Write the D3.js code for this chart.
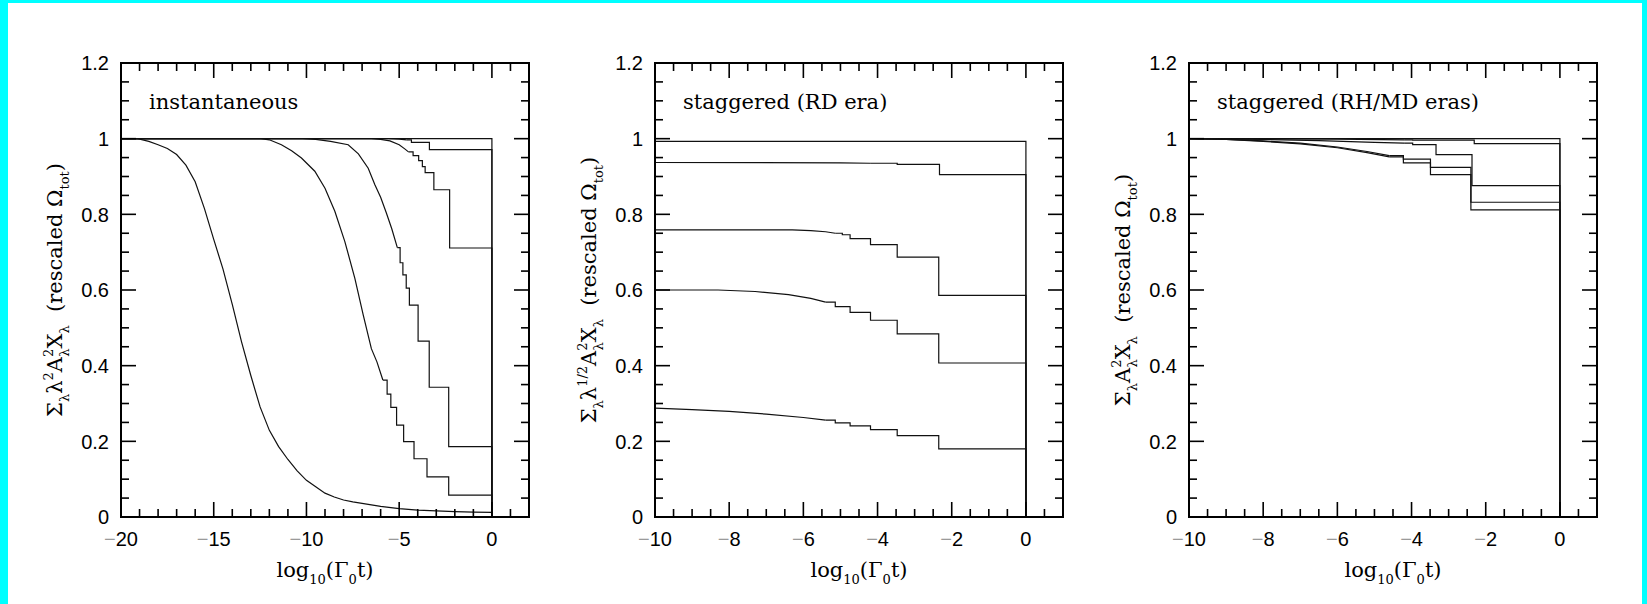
<!DOCTYPE html>
<html>
<head>
<meta charset="utf-8">
<script src="https://cdn.jsdelivr.net/npm/d3@7"></script>
<style>
  html, body { margin: 0; padding: 0; background: #fff; }
  svg { display: block; }
  text { white-space: pre; }
</style>
</head>
<body>
<svg id="fig" width="1647" height="604"></svg>
<script>
// ---------------- data ----------------
// Each curve: a smooth part (joined point to point) and a staircase part
// ([x, new value] at each drop), ending with the fall to zero at x = 0.

// Panel 1: instantaneous
const instF = [[-20, 1]];
const instFStep = [[0, 0]];
const instE = [[-20, 1], [-5.6, 1], [-5.0, 0.999], [-4.6, 0.997]];
const instEStep = [[-4.34, 0.990], [-3.37, 0.971], [0, 0]];
const instD = [[-20, 1], [-6.5, 1], [-6.0, 0.998], [-5.5, 0.994], [-5.0, 0.984], [-4.7, 0.973], [-4.5, 0.965]];
const instDStep = [[-4.25, 0.955], [-3.95, 0.942], [-3.75, 0.926], [-3.6, 0.910], [-3.13, 0.865], [-2.28, 0.711], [0, 0]];
const instC = [[-20, 1], [-10.2, 1], [-9.5, 0.998], [-8.7, 0.993], [-7.75, 0.984], [-7.2, 0.960], [-6.67, 0.922],
               [-6.31, 0.878], [-6.0, 0.845], [-5.7, 0.805], [-5.4, 0.762], [-5.1, 0.712]];
const instCStep = [[-4.95, 0.672], [-4.8, 0.640], [-4.62, 0.605], [-4.45, 0.560], [-3.98, 0.465],
                   [-3.38, 0.343], [-2.33, 0.186], [0, 0]];
const instB = [[-20, 1], [-12.45, 1], [-12, 0.997], [-11.35, 0.984], [-10.8, 0.968], [-10.27, 0.949],
               [-9.55, 0.914], [-9.0, 0.869], [-8.47, 0.808], [-7.93, 0.728], [-7.39, 0.631], [-6.94, 0.534],
               [-6.5, 0.445], [-6.2, 0.410], [-5.88, 0.362]];
const instBStep = [[-5.65, 0.325], [-5.45, 0.290], [-5.14, 0.243], [-4.76, 0.199], [-4.2, 0.154],
                   [-3.5, 0.106], [-2.33, 0.058], [0, 0]];
const instA = [[-20, 1], [-19.1, 1], [-18.5, 0.993], [-18, 0.984], [-17.5, 0.974], [-17, 0.958], [-16.5, 0.930],
               [-16, 0.886], [-15.5, 0.815], [-15, 0.734], [-14.5, 0.655], [-14, 0.562], [-13.5, 0.463],
               [-13, 0.374], [-12.5, 0.291], [-12, 0.229], [-11.5, 0.186], [-11, 0.152], [-10.5, 0.122],
               [-10, 0.097], [-9.5, 0.080], [-9, 0.063], [-8.5, 0.053], [-8, 0.045], [-7.5, 0.040], [-7, 0.036],
               [-6, 0.028], [-5, 0.022], [-4, 0.018], [-3, 0.016], [-2, 0.014], [-1, 0.013], [0, 0.012]];
const instAStep = [[0, 0]];

// Panel 2: staggered, RD era
const rdA = [[-10, 0.993]];
const rdAStep = [[0, 0]];
const rdB = [[-10, 0.937], [-5, 0.936], [-4.2, 0.935]];
const rdBStep = [[-3.47, 0.932], [-2.33, 0.905], [0, 0]];
const rdC = [[-10, 0.759], [-6.3, 0.759], [-5.8, 0.757], [-5.4, 0.754], [-5.14, 0.750]];
const rdCStep = [[-4.95, 0.746], [-4.74, 0.736], [-4.19, 0.720], [-3.47, 0.687], [-2.35, 0.586], [0, 0]];
const rdD = [[-10, 0.600], [-8.3, 0.600], [-7.3, 0.596], [-6.4, 0.588], [-5.8, 0.578], [-5.4, 0.568]];
const rdDStep = [[-5.14, 0.556], [-4.74, 0.541], [-4.19, 0.520], [-3.47, 0.484], [-2.35, 0.407], [0, 0]];
const rdE = [[-10, 0.288], [-9, 0.284], [-8, 0.279], [-7, 0.272], [-6, 0.263], [-5.4, 0.256]];
const rdEStep = [[-5.14, 0.249], [-4.74, 0.241], [-4.19, 0.231], [-3.47, 0.215], [-2.35, 0.180], [0, 0]];

// Panel 3: staggered, RH/MD eras
const rhA = [[-10, 1]];
const rhAStep = [[0, 0]];
const rhB = [[-10, 1], [-6, 0.999], [-4.2, 0.997]];
const rhBStep = [[-3.97, 0.996], [-2.31, 0.987], [0, 0]];
const rhC = [[-10, 1], [-8, 0.998], [-6.5, 0.995], [-5, 0.990], [-4.2, 0.988]];
const rhCStep = [[-3.97, 0.984], [-3.34, 0.958], [-2.37, 0.876], [0, 0]];
const rhD = [[-10, 1], [-9, 0.998], [-8, 0.994], [-7, 0.988], [-6, 0.978], [-5.2, 0.966], [-4.6, 0.955]];
const rhDStep = [[-4.22, 0.936], [-3.49, 0.924], [-2.40, 0.832], [0, 0]];
const rhE = [[-10, 1], [-9, 0.998], [-8, 0.993], [-7, 0.986], [-6, 0.976], [-5.2, 0.963], [-4.6, 0.952]];
const rhEStep = [[-4.22, 0.946], [-3.49, 0.905], [-2.40, 0.812], [0, 0]];

// axes
const yMajorTicks = [0, 0.2, 0.4, 0.6, 0.8, 1, 1.2];
const xMajorInst = [-20, -15, -10, -5, 0];
const xMajorStag = [-10, -8, -6, -4, -2, 0];
const panelTitles = ["instantaneous", "staggered (RD era)", "staggered (RH/MD eras)"];

// ---------------- drawing ----------------
const W = 1647, H = 604;
const TOP = 63, BOTTOM = 517, PW = 408;
const SERIF = "'DejaVu Serif', 'Liberation Serif', serif";
const SANS = "'Liberation Sans', Arial, sans-serif";

const svg = d3.select("#fig");
svg.append("rect").attr("width", W).attr("height", H).attr("fill", "#00ffff");
svg.append("rect").attr("x", 8).attr("y", 3).attr("width", 1634).attr("height", H - 3).attr("fill", "#fff");

// rich text helper: segments {t, s: 'sub'|'sup', dx}
function richText(sel, segs, size) {
  let shift = 0;
  segs.forEach(seg => {
    const target = seg.s === "sub" ? 0.32 * size : seg.s === "sup" ? -0.42 * size : 0;
    const ts = sel.append("tspan")
      .attr("dy", target - shift)
      .attr("font-size", seg.s ? size * 0.62 : size)
      .text(seg.t);
    if (seg.dx) ts.attr("dx", seg.dx);
    shift = target;
  });
}

const yLabels = [
  [{t: "Σ"}, {t: "λ", s: "sub"}, {t: "λ"}, {t: "2", s: "sup"}, {t: "A"}, {t: "2", s: "sup"},
   {t: "λ", s: "sub", dx: -8}, {t: "X"}, {t: "λ", s: "sub"}, {t: "  (rescaled Ω"}, {t: "tot", s: "sub"}, {t: ")"}],
  [{t: "Σ"}, {t: "λ", s: "sub"}, {t: "λ"}, {t: "1/2", s: "sup"}, {t: "A"}, {t: "2", s: "sup"},
   {t: "λ", s: "sub", dx: -8}, {t: "X"}, {t: "λ", s: "sub"}, {t: "  (rescaled Ω"}, {t: "tot", s: "sub"}, {t: ")"}],
  [{t: "Σ"}, {t: "λ", s: "sub"}, {t: "A"}, {t: "2", s: "sup"},
   {t: "λ", s: "sub", dx: -8}, {t: "X"}, {t: "λ", s: "sub"}, {t: "  (rescaled Ω"}, {t: "tot", s: "sub"}, {t: ")"}]
];
const xLabel = [{t: "log"}, {t: "10", s: "sub"}, {t: "(Γ"}, {t: "0", s: "sub"}, {t: "t)"}];

const panels = [
  {left: 121, xDomain: [-20, 2], xMajor: xMajorInst, xMinorStep: 1,
   series: [[instF, instFStep], [instE, instEStep], [instD, instDStep], [instC, instCStep], [instB, instBStep], [instA, instAStep]]},
  {left: 655, xDomain: [-10, 1], xMajor: xMajorStag, xMinorStep: 0.5,
   series: [[rdA, rdAStep], [rdB, rdBStep], [rdC, rdCStep], [rdD, rdDStep], [rdE, rdEStep]]},
  {left: 1189, xDomain: [-10, 1], xMajor: xMajorStag, xMinorStep: 0.5,
   series: [[rhA, rhAStep], [rhB, rhBStep], [rhC, rhCStep], [rhD, rhDStep], [rhE, rhEStep]]}
];

panels.forEach((p, i) => {
  const g = svg.append("g");
  const x = d3.scaleLinear().domain(p.xDomain).range([p.left, p.left + PW]);
  const y = d3.scaleLinear().domain([0, 1.2]).range([BOTTOM, TOP]);

  // curves
  const smoothLine = d3.line().x(d => x(d[0])).y(d => y(d[1]));
  const stepLine = d3.line().x(d => x(d[0])).y(d => y(d[1])).curve(d3.curveStepAfter);
  p.series.forEach(([smooth, steps]) => {
    if (smooth.length > 1) {
      g.append("path").attr("d", smoothLine(smooth))
        .attr("fill", "none").attr("stroke", "#111").attr("stroke-width", 1.2);
    }
    g.append("path").attr("d", stepLine([smooth[smooth.length - 1], ...steps]))
      .attr("fill", "none").attr("stroke", "#111").attr("stroke-width", 1.2);
  });

  // ticks on all four sides, pointing inward
  const isMajor = (v, arr) => arr.some(m => Math.abs(m - v) < 1e-6);
  const xt = d3.range(p.xDomain[0], p.xDomain[1] + 1e-6, p.xMinorStep);
  xt.forEach(v => {
    const len = isMajor(v, p.xMajor) ? 15 : 8;
    const px = x(v);
    g.append("line").attr("x1", px).attr("x2", px).attr("y1", BOTTOM).attr("y2", BOTTOM - len)
      .attr("stroke", "#000").attr("stroke-width", 1.6);
    g.append("line").attr("x1", px).attr("x2", px).attr("y1", TOP).attr("y2", TOP + len)
      .attr("stroke", "#000").attr("stroke-width", 1.6);
  });
  const yt = d3.range(0, 1.2 + 1e-6, 0.05);
  yt.forEach(v => {
    const len = isMajor(v, yMajorTicks) ? 15 : 8;
    const py = y(v);
    g.append("line").attr("x1", p.left).attr("x2", p.left + len).attr("y1", py).attr("y2", py)
      .attr("stroke", "#000").attr("stroke-width", 1.6);
    g.append("line").attr("x1", p.left + PW).attr("x2", p.left + PW - len).attr("y1", py).attr("y2", py)
      .attr("stroke", "#000").attr("stroke-width", 1.6);
  });

  // frame
  g.append("rect").attr("x", p.left).attr("y", TOP).attr("width", PW).attr("height", BOTTOM - TOP)
    .attr("fill", "none").attr("stroke", "#000").attr("stroke-width", 2);

  // x tick labels
  p.xMajor.forEach(v => {
    const t = g.append("text").attr("x", x(v)).attr("y", 546)
      .attr("text-anchor", "middle").attr("font-family", SANS).attr("font-size", 20).attr("fill", "#000");
    if (v < 0) {
      t.append("tspan").attr("fill", "#9a9a9a").text("\u2212");
      t.append("tspan").text(String(-v));
    } else {
      t.text(String(v));
    }
  });
  // y tick labels
  yMajorTicks.forEach(v => {
    g.append("text").attr("x", p.left - 12).attr("y", y(v)).attr("dy", "0.36em")
      .attr("text-anchor", "end").attr("font-family", SANS).attr("font-size", 20).attr("fill", "#000")
      .text(d3.format("~g")(v));
  });

  // panel title
  g.append("text").attr("x", p.left + 28).attr("y", 109)
    .attr("font-family", SERIF).attr("font-size", 21).attr("fill", "#000")
    .text(panelTitles[i]);

  // x axis title
  const xt2 = g.append("text").attr("x", p.left + PW / 2).attr("y", 577)
    .attr("text-anchor", "middle").attr("font-family", SERIF).attr("fill", "#000").attr("font-size", 21);
  richText(xt2, xLabel, 21);

  // y axis title
  const cx = p.left - 59, cy = (TOP + BOTTOM) / 2;
  const yl = g.append("text").attr("transform", `translate(${cx},${cy}) rotate(-90)`)
    .attr("text-anchor", "middle").attr("font-family", SERIF).attr("fill", "#000").attr("font-size", 21);
  richText(yl, yLabels[i], 21);
});
</script>
</body>
</html>
